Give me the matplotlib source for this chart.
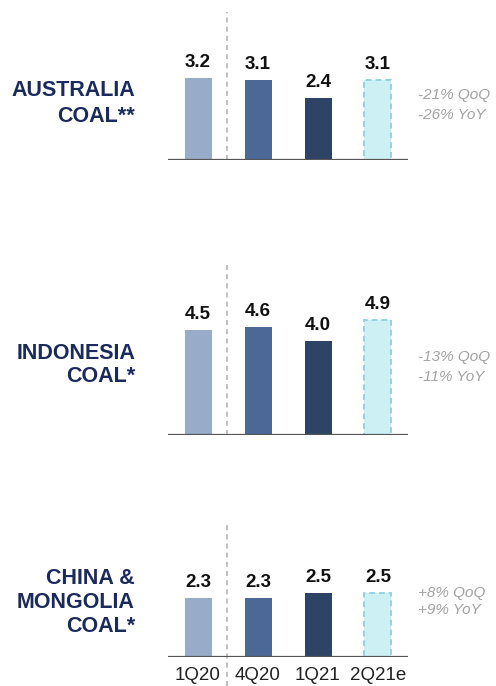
import numpy as np
import matplotlib.pyplot as plt

plt.rcParams['font.family'] = ['Liberation Sans', 'DejaVu Sans']

quarters = ['1Q20', '4Q20', '1Q21', '2Q21e']
regions = [['AUSTRALIA', 'COAL**'],
           ['INDONESIA', 'COAL*'],
           ['CHINA &', 'MONGOLIA', 'COAL*']]
australia = [3.2, 3.1, 2.4, 3.1]
indonesia = [4.5, 4.6, 4.0, 4.9]
china_mongolia = [2.3, 2.3, 2.5, 2.5]
changes = [['-21% QoQ', '-26% YoY'],
           ['-13% QoQ', '-11% YoY'],
           ['+8% QoQ', '+9% YoY']]

fills = ['#98abc9', '#4b6896', '#2e4467', '#cdf0f5']
navy = '#1b2a5c'

W, H = 496, 686
fig = plt.figure(figsize=(W / 100, H / 100), dpi=100)
fig.patch.set_facecolor('white')

# panel boxes in pixels: top, baseline, y max, label centres, change-text centres
panels = [
    dict(top=12, base=160, ymax=5.76, lab=[90, 117], chg=[95, 115]),
    dict(top=265, base=435, ymax=7.26, lab=[353, 377], chg=[357, 377]),
    dict(top=523, base=657, ymax=5.25, lab=[578, 603, 627], chg=[593, 610]),
]
series = [australia, indonesia, china_mongolia]

x = np.arange(len(quarters))
left, right = 168, 408

for i, (p, vals) in enumerate(zip(panels, series)):
    ax = fig.add_axes([left / W, 1 - p['base'] / H,
                       (right - left) / W, (p['base'] - p['top']) / H])
    ax.set_xlim(-0.5, 3.5)
    ax.set_ylim(0, p['ymax'])
    for j in range(len(vals)):
        if j == 3:
            ax.bar(x[j], vals[j], 0.45, color=fills[j], edgecolor='#94d2e4',
                   linestyle=(0, (3, 2)), linewidth=1.4, zorder=2)
        else:
            ax.bar(x[j], vals[j], 0.45, color=fills[j], zorder=2)
        ax.annotate(f'{vals[j]:.1f}', (x[j], vals[j]), xytext=(0, 5),
                    textcoords='offset points', ha='center', va='bottom',
                    fontsize=13.5, fontweight='bold', color='#111111')
    # separator between last year and this year
    px_per_unit = (p['base'] - p['top']) / p['ymax']
    y_low = -(H - p['base']) / px_per_unit if i == 2 else 0
    ax.plot([0.48, 0.48], [y_low, p['ymax']], color='#b5b5b5',
            linestyle=(0, (3, 2.5)), linewidth=1.2, clip_on=False, zorder=1)
    ax.axhline(0, color='#555555', linewidth=1.6, zorder=3)
    for s in ax.spines.values():
        s.set_visible(False)
    ax.set_yticks([])
    if i == 2:
        ax.set_xticks(x)
        ax.set_xticklabels(quarters, fontsize=13.5, color='#222222')
        ax.tick_params(axis='x', length=0, pad=7)
    else:
        ax.set_xticks([])

    for name, yc in zip(regions[i], p['lab']):
        fig.text(135 / W, 1 - yc / H, name, ha='right', va='center',
                 fontsize=15.5, fontweight='bold', color=navy)
    for t, yc in zip(changes[i], p['chg']):
        fig.text(418 / W, 1 - yc / H, t, ha='left', va='center',
                 fontsize=11, style='italic', color='#a3a3a3')

fig.savefig('out.png', dpi=100, facecolor='white')
